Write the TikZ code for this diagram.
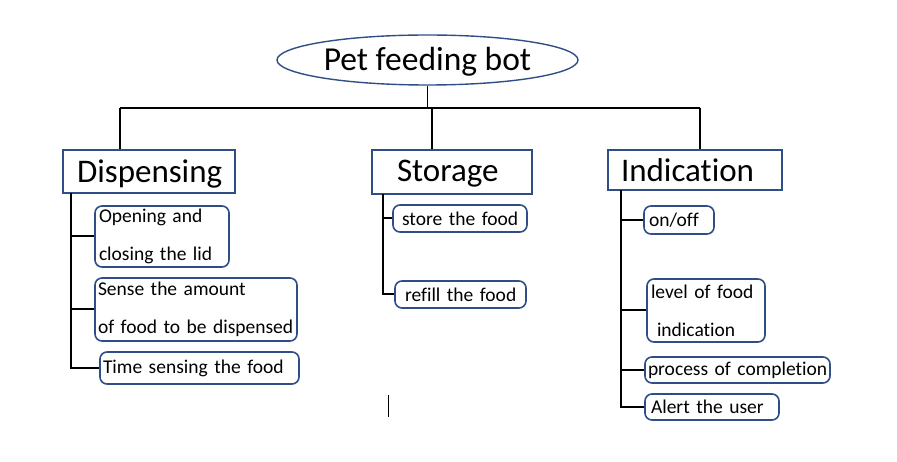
\documentclass[tikz,border=0pt]{standalone}
\usepackage{fontspec}
\setmainfont{Carlito}[Ligatures=NoCommon]
\usetikzlibrary{shapes.geometric}
\definecolor{boxblue}{HTML}{2F4D86}
\newcommand{\lowr}[2]{\raisebox{-#1}[\height][\depth]{\mbox{#2}}}
\tikzset{
  headbox/.style={draw=boxblue, line width=1.6pt, inner ysep=0pt, align=left,
    font=\fontsize{33}{38}\selectfont},
  subbox/.style={draw=boxblue, line width=1.6pt, rounded corners=7pt, inner ysep=0pt,
    align=left, font=\fontsize{19.5}{38}\selectfont},
  conn/.style={draw=black, line width=2pt},
}
\begin{document}
\begin{tikzpicture}[x=1pt,y=-1pt]
\useasboundingbox (0,0) rectangle (897,462);
% root
\node[ellipse, draw=boxblue, line width=1.4pt, minimum width=301pt, minimum height=50pt,
  inner sep=0pt, font=\fontsize{33.5}{38}\selectfont] (pet) at (427.5,60) {\lowr{2pt}{Pet feeding bot}};
% headings
\node[headbox, minimum width=172pt, minimum height=43pt, inner xsep=14pt, text width=144pt] (disp) at (149,171.5) {\lowr{2.5pt}{Dispensing}};
\node[headbox, minimum width=160pt, minimum height=44pt, inner xsep=25pt, text width=110pt] (stor) at (452,172) {\lowr{2pt}{Storage}};
\node[headbox, minimum width=174pt, minimum height=40pt, inner xsep=13pt, text width=148pt] (ind) at (695,170) {\lowr{0.5pt}{Indication}};
% bar
\coordinate (barL) at (120,108);
\coordinate (barR) at (700,108);
\coordinate (barM) at (432,108);
\draw[conn, line width=1.4pt] (pet.south) -- (pet.south |- barL);
\draw[conn] (barL) -- (barR);
\draw[conn] (barL) -- (barL |- disp.north);
\draw[conn] (barM) -- (barM |- stor.north);
\draw[conn] (barR) -- (barR |- ind.north);
% Dispensing sub boxes
\node[subbox, minimum width=134pt, minimum height=61pt, inner xsep=4pt, text width=126pt] (d1) at (162,236.5) {\mbox{Opening and}\\\mbox{closing the lid}};
\node[subbox, minimum width=202pt, minimum height=63pt, inner xsep=3pt, text width=196pt] (d2) at (196,309.5) {\mbox{Sense the amount}\\\mbox{of food to be dispensed}};
\node[subbox, minimum width=199pt, minimum height=32pt, inner xsep=3pt, text width=193pt] (d3) at (199.5,368) {\mbox{Time sensing the food}};
\coordinate (dv) at (71,193);
\draw[conn] (dv) |- (d3.west);
\draw[conn] (dv |- d1.west) -- (d1.west);
\draw[conn] (dv |- d2.west) -- (d2.west);
% Storage sub boxes
\node[subbox, minimum width=134pt, minimum height=27pt, inner xsep=9pt, text width=116pt] (s1) at (460,218.5) {\mbox{store the food}};
\node[subbox, minimum width=131pt, minimum height=27pt, inner xsep=10pt, text width=111pt] (s2) at (460.5,294.5) {\mbox{refill the food}};
\coordinate (sv) at (383,194);
\draw[conn] (sv) |- (s2.west);
\draw[conn] (sv |- s1.west) -- (s1.west);
% Indication sub boxes
\node[subbox, minimum width=70pt, minimum height=28pt, inner xsep=5pt, text width=60pt] (i1) at (679,220) {\mbox{on/off}};
\node[subbox, minimum width=118pt, minimum height=63pt, inner xsep=4pt, text width=110pt] (i2) at (706,310.5) {\mbox{level of food}\\\mbox{\hspace*{6pt}indication}};
\node[subbox, minimum width=185pt, minimum height=26pt, inner xsep=3pt, text width=179pt] (i3) at (737.5,370) {\mbox{process of completion}};
\node[subbox, minimum width=134pt, minimum height=26pt, inner xsep=6pt, text width=122pt] (i4) at (712,407) {\mbox{Alert the user}};
\coordinate (iv) at (621,190);
\draw[conn] (iv) |- (i4.west);
\draw[conn] (iv |- i1.west) -- (i1.west);
\draw[conn] (iv |- i2.west) -- (i2.west);
\draw[conn] (iv |- i3.west) -- (i3.west);
% stray mark
\coordinate (m1) at (388,395);
\coordinate (m2) at (388,417);
\draw[black, line width=1pt] (m1) -- (m2);
\end{tikzpicture}
\end{document}
